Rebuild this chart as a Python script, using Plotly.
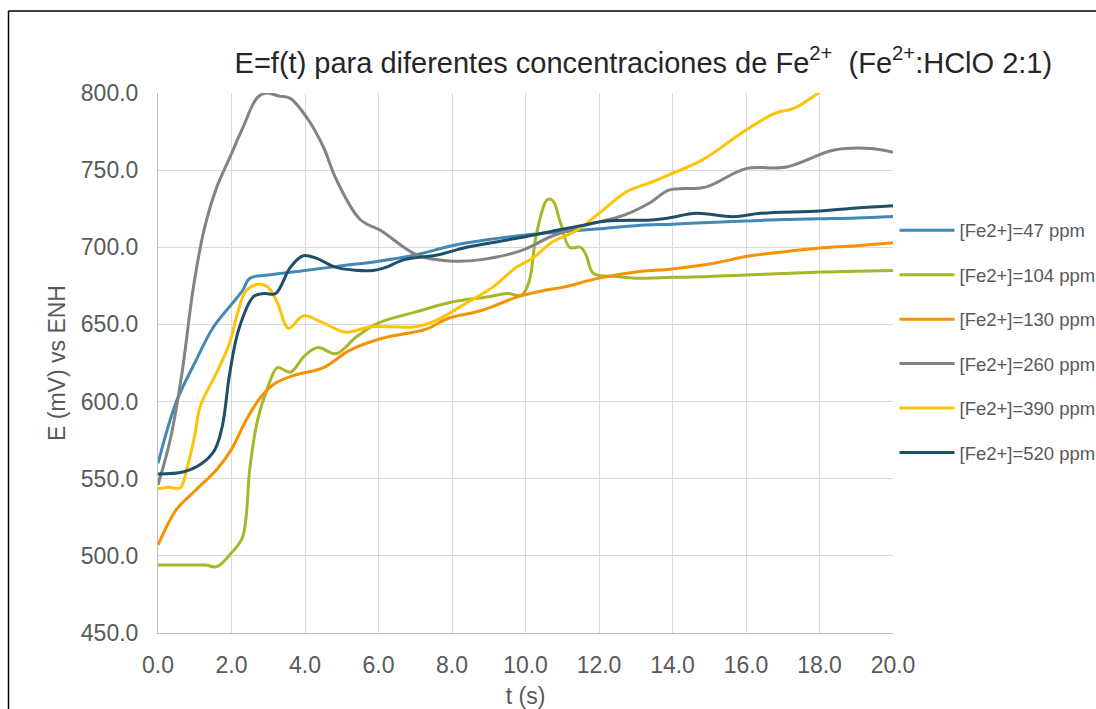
import plotly.graph_objects as go

# ---- data ----
t_47 = [0, 0.5, 1.0, 1.5, 2.0, 2.3, 2.5, 3.0, 4.0, 5.0, 6.0, 7.0, 8.0, 9.0, 10.0, 11.0, 12.0, 13.0, 14.0, 15.0, 16.0, 17.0, 18.0, 19.0, 20.0]
e_47 = [560, 600, 625, 648, 663, 672, 680, 682, 685, 688, 691, 695, 701, 705, 708, 710, 712, 714, 715, 716, 717, 718, 718.5, 719, 720]

t_104 = [0, 0.5, 1.0, 1.3, 1.6, 2.0, 2.3, 2.5, 2.7, 3.0, 3.25, 3.6, 4.0, 4.35, 4.85, 5.4, 6.0, 7.0, 8.0, 9.0, 9.5, 9.9, 10.1, 10.3, 10.6, 10.75, 10.95, 11.2, 11.5, 11.65, 11.85, 12.5, 13.0, 14.0, 15.0, 16.0, 17.0, 18.0, 19.0, 20.0]
e_104 = [494, 494, 494, 494, 493, 502, 512, 557, 587, 610, 622, 619, 630, 635, 631, 642, 651, 658, 664.5, 668, 670, 669, 678, 709, 731, 730, 716, 700, 700, 695, 683, 681, 680, 680.5, 681, 682, 683, 684, 684.5, 685]

t_130 = [0, 0.5, 1.0, 1.6, 2.0, 2.4, 2.8, 3.2, 3.7, 4.5, 5.2, 6.1, 7.3, 7.9, 8.8, 9.8, 10.5, 11.0, 12.0, 13.0, 14.0, 15.2, 16.0, 17.0, 18.0, 19.0, 20.0]
e_130 = [507, 530, 542, 556, 569, 588, 603, 612, 617, 622, 633, 641, 647, 654, 659, 668, 672, 674, 680, 684, 686, 690, 694, 697, 699.5, 701, 703]

t_260 = [0, 0.33, 0.65, 0.95, 1.25, 1.6, 1.95, 2.3, 2.7, 2.95, 3.3, 3.6, 4.05, 4.5, 4.85, 5.5, 6.05, 7.05, 8.0, 8.8, 9.9, 10.7, 11.6, 12.7, 13.4, 13.9, 14.9, 16.0, 17.1, 18.4, 19.4, 20.0]
e_260 = [546, 575, 618, 672, 711, 739, 758, 777, 797, 800, 798, 796.5, 784, 765, 744, 718, 711, 695, 691, 692, 698, 707, 714, 721, 729, 737, 739, 751, 752, 763, 764, 761.5]

t_390 = [0, 0.3, 0.6, 0.8, 1.0, 1.15, 1.6, 1.95, 2.15, 2.4, 2.75, 3.0, 3.25, 3.55, 3.95, 4.5, 5.1, 5.8, 7.0, 7.6, 8.4, 9.1, 9.75, 10.2, 10.7, 11.4, 12.0, 12.75, 13.4, 13.9, 14.8, 16.0, 16.8, 17.3, 18.1, 19.0, 20.0]
e_390 = [543.5, 544.5, 544, 558, 578, 597, 619, 638, 656, 672, 676, 674, 664, 647.5, 655.5, 651, 645, 648.5, 648.5, 653, 664, 674, 687, 693, 703, 711, 722, 736, 742, 747, 756.5, 776, 787, 790, 802, 815, 828]

t_520 = [0, 0.7, 1.2, 1.55, 1.75, 1.95, 2.2, 2.6, 2.9, 3.2, 3.6, 3.95, 4.3, 4.85, 5.85, 6.2, 6.7, 7.6, 8.4, 9.8, 10.85, 11.5, 12.2, 13.4, 13.9, 14.65, 15.65, 16.4, 18.0, 19.0, 20.0]
e_520 = [553, 554.5, 560, 569, 584, 618, 647, 668, 670, 670, 687, 694.5, 693, 687, 685, 687, 692, 695, 700, 706, 711, 714, 717, 717.7, 719, 722, 719.8, 722, 723.5, 725.5, 727]

series_names = ["[Fe2+]=47 ppm", "[Fe2+]=104 ppm", "[Fe2+]=130 ppm",
                "[Fe2+]=260 ppm", "[Fe2+]=390 ppm", "[Fe2+]=520 ppm"]
series_t = [t_47, t_104, t_130, t_260, t_390, t_520]
series_e = [e_47, e_104, e_130, e_260, e_390, e_520]
colors = ["#418AB3", "#A6B727", "#F69200", "#838383", "#FEC306", "#1F4E69"]

x_ticks = [0, 2, 4, 6, 8, 10, 12, 14, 16, 18, 20]
y_ticks = [450, 500, 550, 600, 650, 700, 750, 800]

FONT = "Liberation Sans, Arial, sans-serif"

fig = go.Figure()
for name, t, e, c in zip(series_names, series_t, series_e, colors):
    fig.add_trace(go.Scatter(
        x=t, y=e, name=name, mode="lines", legendgroup=name,
        line=dict(color=c, width=3, shape="spline", smoothing=1.0),
    ))

fig.update_layout(
    width=1096, height=709,
    margin=dict(l=158, r=203, t=93, b=76, autoexpand=False),
    paper_bgcolor="white", plot_bgcolor="white",
    font=dict(family=FONT, color="#595959"),
    title=dict(
        text="E=f(t) para diferentes concentraciones de Fe<sup>2+</sup>  (Fe<sup>2+</sup>:HClO 2:1)",
        font=dict(size=29, color="#262626", family=FONT),
        x=0.587, xanchor="center", xref="container",
        y=0.912, yanchor="middle", yref="container",
    ),
    legend=dict(
        xref="container", yref="container",
        x=894.5 / 1096, xanchor="left", y=0.7014, yanchor="top",
        font=dict(size=18.5, color="#595959", family=FONT),
        tracegroupgap=17.4, itemwidth=55, bgcolor="rgba(0,0,0,0)",
    ),
    showlegend=True,
)
fig.update_xaxes(
    range=[0, 20], tickvals=x_ticks, ticktext=[f"{v:.1f}" for v in x_ticks],
    showgrid=True, gridcolor="#d9d9d9", gridwidth=1,
    showline=True, linecolor="#bfbfbf", linewidth=1, zeroline=False,
    tickfont=dict(size=23, color="#595959"), ticklabelstandoff=11,
    title=dict(text="t (s)", font=dict(size=23, color="#595959"), standoff=16),
)
fig.update_yaxes(
    range=[450, 800], tickvals=y_ticks, ticktext=[f"{v:.1f}" for v in y_ticks],
    showgrid=True, gridcolor="#d9d9d9", gridwidth=1,
    showline=True, linecolor="#bfbfbf", linewidth=1, zeroline=False,
    tickfont=dict(size=23, color="#595959"), ticklabelstandoff=14,
    title=dict(text="E (mV) vs ENH", font=dict(size=23, color="#595959"), standoff=8),
)

# outer chart border: only the top and left edges fall inside the window
fig.add_shape(type="line", xref="paper", yref="paper",
              x0=(8.5 - 158) / 735, x1=(1096 - 158) / 735,
              y0=(633 - 11) / 540, y1=(633 - 11) / 540,
              line=dict(color="black", width=1.5), layer="below")
fig.add_shape(type="line", xref="paper", yref="paper",
              x0=(8.5 - 158) / 735, x1=(8.5 - 158) / 735,
              y0=(633 - 11) / 540, y1=(633 - 709) / 540,
              line=dict(color="black", width=1.5), layer="below")

fig.write_html(
    "out.html",
    config={"displayModeBar": False},
    post_script="document.documentElement.style.overflow='hidden';"
                "document.body.style.overflow='hidden';"
                "document.body.style.margin='0';",
)
